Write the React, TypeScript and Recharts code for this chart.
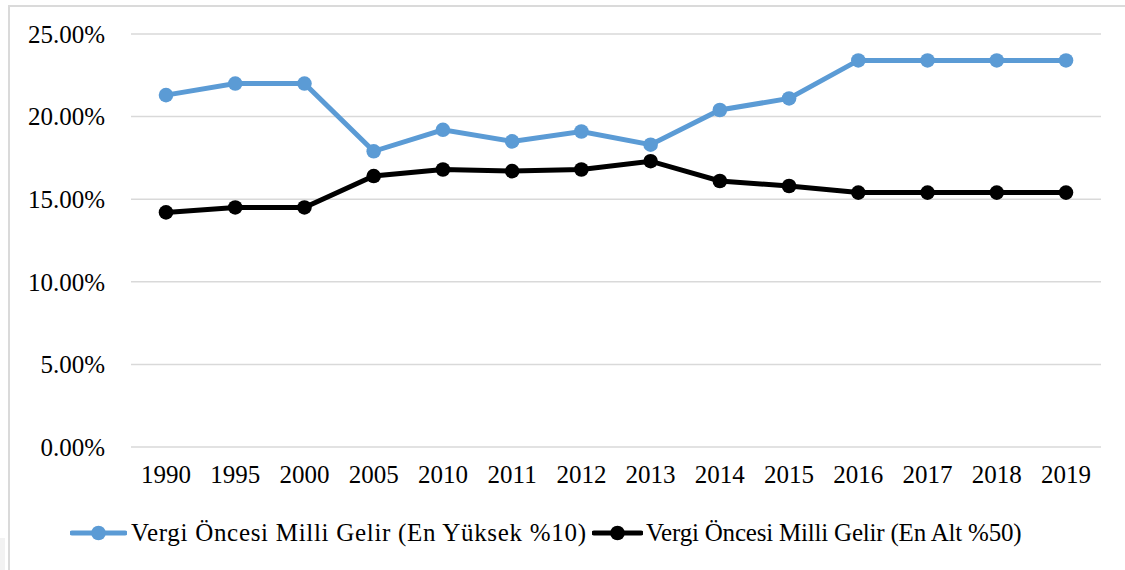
import React from "react";
import { LineChart, Line, XAxis, YAxis, CartesianGrid, Legend } from "recharts";

const years = ["1990", "1995", "2000", "2005", "2010", "2011", "2012", "2013", "2014", "2015", "2016", "2017", "2018", "2019"];
const top10 = [21.3, 22.0, 22.0, 17.9, 19.2, 18.5, 19.1, 18.3, 20.4, 21.1, 23.4, 23.4, 23.4, 23.4];
const bottom50 = [14.2, 14.5, 14.5, 16.4, 16.8, 16.7, 16.8, 17.3, 16.1, 15.8, 15.4, 15.4, 15.4, 15.4];
const yTicks = [0, 5, 10, 15, 20, 25];
const seriesNames = ["Vergi Öncesi Milli Gelir (En Yüksek %10)", "Vergi Öncesi Milli Gelir (En Alt %50)"];
const seriesColors = ["#5B9BD5", "#000000"];

const data = years.map((y, i) => ({ year: y, top10: top10[i], bottom50: bottom50[i] }));

const FONT = "'Liberation Serif', 'Times New Roman', serif";

const legendLayout = [
  { iconLeft: 70, iconWidth: 57, textLeft: 131, spacing: 0.7 },
  { iconLeft: 592, iconWidth: 51, textLeft: 646, spacing: -0.2 },
];

const LegendIcon = ({ color, width }: { color: string; width: number }) => (
  <svg width={width} height={16} style={{ display: "block" }}>
    <line x1={2} y1={8} x2={width - 2} y2={8} stroke={color} strokeWidth={5} strokeLinecap="round" />
    <circle cx={width / 2} cy={8} r={7.3} fill={color} />
  </svg>
);

const CustomLegend = () => (
  <div
    style={{
      position: "relative",
      height: 40,
      width: 1125,
      fontFamily: FONT,
      fontSize: 25,
      color: "#000",
      whiteSpace: "nowrap",
    }}
  >
    {seriesNames.map((n, i) => (
      <React.Fragment key={n}>
        <div style={{ position: "absolute", left: legendLayout[i].iconLeft, top: 12 }}>
          <LegendIcon color={seriesColors[i]} width={legendLayout[i].iconWidth} />
        </div>
        <span
          style={{
            position: "absolute",
            left: legendLayout[i].textLeft,
            top: 0,
            lineHeight: "40px",
            letterSpacing: legendLayout[i].spacing,
          }}
        >
          {n}
        </span>
      </React.Fragment>
    ))}
  </div>
);

export default function App() {
  return (
    <div style={{ position: "absolute", left: 0, top: 0, width: 1125, height: 570, background: "#fff", overflow: "hidden" }}>
      <div style={{ position: "absolute", left: 0, top: 538, width: 5, height: 32, background: "#f2f2f2" }} />
      <div
        style={{
          position: "absolute",
          left: 8,
          top: 5,
          width: 1125,
          height: 600,
          borderLeft: "2px solid #dadada",
          borderTop: "2px solid #dadada",
        }}
      />
      <div style={{ position: "absolute", left: 0, top: 0 }}>
        <LineChart width={1125} height={570} data={data} margin={{ top: 34, right: 24, bottom: 53, left: 0 }}>
          <CartesianGrid vertical={false} stroke="#d9d9d9" strokeWidth={1.5} />
          <XAxis
            dataKey="year"
            axisLine={false}
            tickLine={false}
            tickMargin={12}
            height={30}
            interval={0}
            padding={{ left: 35, right: 35 }}
            tick={{ fill: "#000", fontSize: 25, fontFamily: FONT }}
          />
          <YAxis
            domain={[0, 25]}
            ticks={yTicks}
            axisLine={false}
            tickLine={false}
            tickMargin={20}
            width={131}
            tickFormatter={(v: number) => v.toFixed(2) + "%"}
            tick={{ fill: "#000", fontSize: 25, fontFamily: FONT }}
          />
          <Legend
            verticalAlign="bottom"
            content={() => <CustomLegend />}
            wrapperStyle={{ top: 513, bottom: "auto", left: 0, width: 1125 }}
          />
          <Line
            dataKey="top10"
            name={seriesNames[0]}
            stroke={seriesColors[0]}
            strokeWidth={5}
            dot={{ r: 7.3, fill: seriesColors[0], stroke: "none" }}
            isAnimationActive={false}
          />
          <Line
            dataKey="bottom50"
            name={seriesNames[1]}
            stroke={seriesColors[1]}
            strokeWidth={5}
            dot={{ r: 7.3, fill: seriesColors[1], stroke: "none" }}
            isAnimationActive={false}
          />
        </LineChart>
      </div>
    </div>
  );
}
